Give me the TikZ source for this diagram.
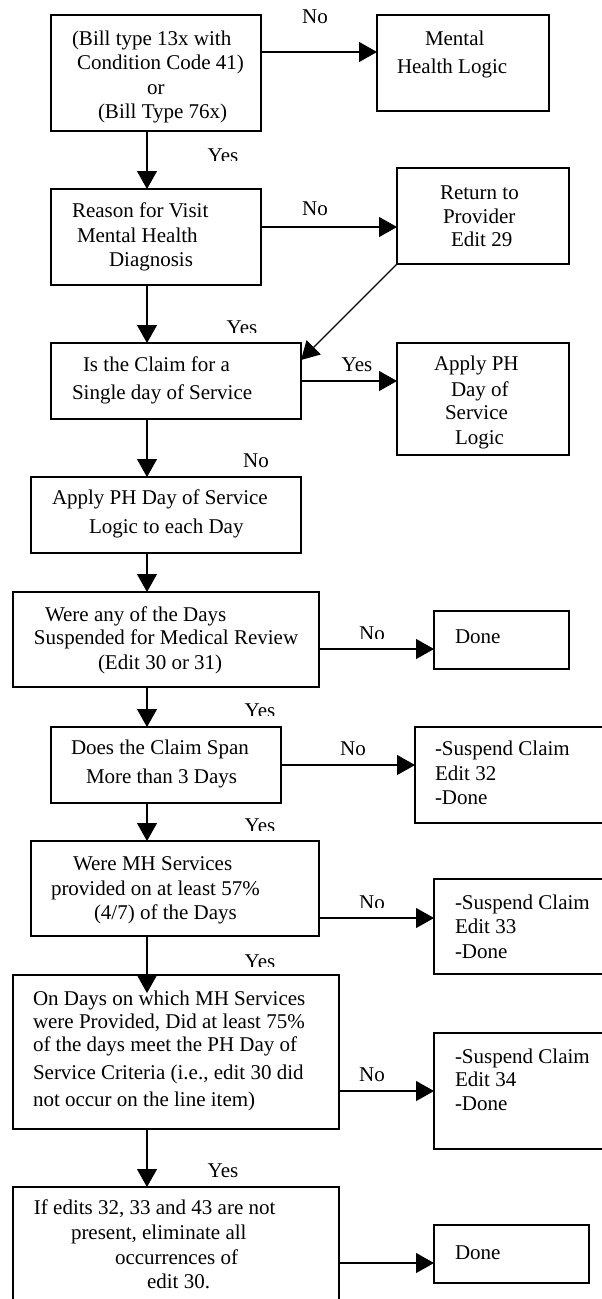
\documentclass[tikz,border=0pt]{standalone}
\usepackage{fontspec}
\setmainfont{Liberation Serif}
\usetikzlibrary{arrows.meta}
\tikzset{
  box/.style={draw, line width=1.1pt, inner sep=0pt, outer sep=0pt, anchor=north west},
  ln/.style={anchor=base west, inner sep=0pt, outer sep=0pt, font=\fontsize{21}{24.5}\selectfont},
  lbl/.style={anchor=base, inner sep=0pt, outer sep=0pt, font=\fontsize{21}{24.5}\selectfont},
  arr/.style={line width=1.1pt, -{Triangle[length=18pt,width=20pt]}},
}
\begin{document}
\begin{tikzpicture}[x=1pt,y=-1pt]
\clip (0,0) rectangle (602,1299);
% boxes
\node[box, minimum width=210pt, minimum height=116pt] (b1) at (51,15) {};
\node[box, minimum width=172pt, minimum height=96pt] (mh) at (377,15) {};
\node[box, minimum width=210pt, minimum height=96pt] (b2) at (51,189) {};
\node[box, minimum width=172pt, minimum height=96pt] (ret) at (397,168) {};
\node[box, minimum width=250pt, minimum height=76pt] (b3) at (51,343) {};
\node[box, minimum width=172pt, minimum height=112pt] (aph) at (397,343) {};
\node[box, minimum width=270pt, minimum height=76pt] (b4) at (31,477) {};
\node[box, minimum width=306pt, minimum height=95pt] (b5) at (13,592) {};
\node[box, minimum width=135pt, minimum height=58pt] (d1) at (434,611) {};
\node[box, minimum width=230pt, minimum height=76pt] (b6) at (51,727) {};
\node[box, minimum width=200pt, minimum height=96pt] (s32) at (415,727) {};
\node[box, minimum width=288pt, minimum height=95pt] (b7) at (31,841) {};
\node[box, minimum width=180pt, minimum height=95pt] (s33) at (434,879) {};
\node[box, minimum width=326pt, minimum height=154pt] (b8) at (13,975) {};
\node[box, minimum width=180pt, minimum height=116pt] (s34) at (434,1033) {};
\node[box, minimum width=326pt, minimum height=130pt] (b9) at (13,1187) {};
\node[box, minimum width=155pt, minimum height=58pt] (d2) at (434,1225) {};
% texts
\node[ln] (t1a) at (72,45) {(Bill type 13x with};
\node[ln] (t1b) at (77,69) {Condition Code 41)};
\node[ln] (t1c) at (147,94) {or};
\node[ln] (t1d) at (98,118) {(Bill Type 76x)};
\node[ln] (tma) at (425,45) {Mental};
\node[ln] (tmb) at (397,73) {Health Logic};
\node[ln] (tra) at (440,199) {Return to};
\node[ln] (trb) at (443,223) {Provider};
\node[ln] (trc) at (451,246) {Edit 29};
\node[ln] (t2a) at (72,217) {Reason for Visit};
\node[ln] (t2b) at (77,242) {Mental Health};
\node[ln] (t2c) at (109,266) {Diagnosis};
\node[ln] (t3a) at (83,371) {Is the Claim for a};
\node[ln] (t3b) at (72,399) {Single day of Service};
\node[ln] (tpa) at (434,370) {Apply PH};
\node[ln] (tpb) at (451,396) {Day of};
\node[ln] (tpc) at (445,419) {Service};
\node[ln] (tpd) at (455,444) {Logic};
\node[ln] (t4a) at (52,504) {Apply PH Day of Service};
\node[ln] (t4b) at (89,533) {Logic to each Day};
\node[ln] (t5a) at (45,621) {Were any of the Days};
\node[ln] (t5b) at (34,644) {Suspended for Medical Review};
\node[ln] (t5c) at (98,669) {(Edit 30 or 31)};
\node[ln] (td1) at (455,643) {Done};
\node[ln] (t6a) at (71,754) {Does the Claim Span};
\node[ln] (t6b) at (86,783) {More than 3 Days};
\node[ln] (tsa) at (435,755) {-Suspend Claim};
\node[ln] (tsb) at (435,780) {Edit 32};
\node[ln] (tsc) at (435,804) {-Done};
\node[ln] (t7a) at (73,870) {Were MH Services};
\node[ln] (t7b) at (51,895) {provided on at least 57\%};
\node[ln] (t7c) at (94,919) {(4/7) of the Days};
\node[ln] (tua) at (455,909) {-Suspend Claim};
\node[ln] (tub) at (455,933) {Edit 33};
\node[ln] (tuc) at (455,958) {-Done};
\node[ln] (t8a) at (33,1005) {On Days on which MH Services};
\node[ln] (t8b) at (33,1028) {were Provided, Did at least 75\%};
\node[ln] (t8c) at (33,1051) {of the days meet the PH Day of};
\node[ln] (t8d) at (33,1079) {Service Criteria (i.e., edit 30 did};
\node[ln] (t8e) at (33,1106) {not occur on the line item)};
\node[ln] (tva) at (455,1063) {-Suspend Claim};
\node[ln] (tvb) at (455,1086) {Edit 34};
\node[ln] (tvc) at (455,1110) {-Done};
\node[ln] (t9a) at (34,1214) {If edits 32, 33 and 43 are not};
\node[ln] (t9b) at (71,1239) {present, eliminate all};
\node[ln] (t9c) at (115,1264) {occurrences of};
\node[ln] (t9d) at (147,1288) {edit 30.};
\node[ln] (td2) at (455,1259) {Done};
% coordinates
\coordinate (vx) at (147,0);
\coordinate (h1) at (0,52);
\coordinate (h2) at (0,227);
\coordinate (h3) at (0,381);
\coordinate (h5) at (0,649);
\coordinate (h6) at (0,765);
\coordinate (h7) at (0,918);
\coordinate (h8) at (0,1091);
\coordinate (h9) at (0,1263);
\coordinate (dtip) at (301,360);
\coordinate (t8tip) at (147,993);
% vertical arrows
\draw[arr] (b1.south -| vx) -- (b2.north -| vx);
\draw[arr] (b2.south -| vx) -- (b3.north -| vx);
\draw[arr] (b3.south -| vx) -- (b4.north -| vx);
\draw[arr] (b4.south -| vx) -- (b5.north -| vx);
\draw[arr] (b5.south -| vx) -- (b6.north -| vx);
\draw[arr] (b6.south -| vx) -- (b7.north -| vx);
\draw[arr] (b7.south -| vx) -- (t8tip);
\draw[arr] (b8.south -| vx) -- (b9.north -| vx);
% horizontal arrows
\draw[arr] (b1.east |- h1) -- (mh.west |- h1);
\draw[arr] (b2.east |- h2) -- (ret.west |- h2);
\draw[arr] (b3.east |- h3) -- (aph.west |- h3);
\draw[arr] (b5.east |- h5) -- (d1.west |- h5);
\draw[arr] (b6.east |- h6) -- (s32.west |- h6);
\draw[arr] (b7.east |- h7) -- (s33.west |- h7);
\draw[arr] (b8.east |- h8) -- (s34.west |- h8);
\draw[arr] (b9.east |- h9) -- (d2.west |- h9);
% diagonal
\draw[arr] (ret.south west) -- (dtip);
% labels
\node[lbl] (no1) at (315,23) {No};
\begin{scope}\clip (190,130) rectangle (260,160); \node[lbl] (yes1) at (223,162) {Yes}; \end{scope}
\node[lbl] (no2) at (315,215) {No};
\begin{scope}\clip (210,300) rectangle (280,332); \node[lbl] (yes2) at (242,334) {Yes}; \end{scope}
\node[lbl] (yes3) at (357,371) {Yes};
\node[lbl] (no3) at (256,467) {No};
\begin{scope}\clip (340,610) rectangle (410,638); \node[lbl] (no4) at (372,640) {No}; \end{scope}
\begin{scope}\clip (225,690) rectangle (295,715); \node[lbl] (yes4) at (260,717) {Yes}; \end{scope}
\node[lbl] (no5) at (353,755) {No};
\begin{scope}\clip (225,805) rectangle (295,830); \node[lbl] (yes5) at (260,832) {Yes}; \end{scope}
\begin{scope}\clip (340,880) rectangle (410,907); \node[lbl] (no6) at (372,909) {No}; \end{scope}
\begin{scope}\clip (225,940) rectangle (295,966); \node[lbl] (yes6) at (260,968) {Yes}; \end{scope}
\node[lbl] (no7) at (372,1081) {No};
\node[lbl] (yes7) at (223,1177) {Yes};
\end{tikzpicture}
\end{document}
